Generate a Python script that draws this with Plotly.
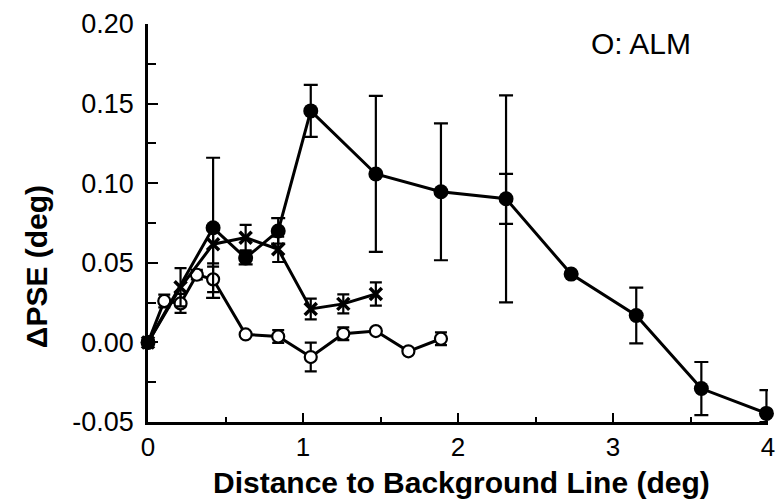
import plotly.graph_objects as go

# ---- data ----
filled_x = [0, 0.42, 0.63, 0.84, 1.05, 1.47, 1.89, 2.31, 2.73, 3.15, 3.57, 3.99]
filled_y = [0, 0.072, 0.053, 0.070, 0.1454, 0.1058, 0.0946, 0.0902, 0.0429, 0.0169, -0.0290, -0.0446]
filled_err_plus = [0, 0.044, 0.004, 0.008, 0.0163, 0.049, 0.043, 0.065, 0, 0.0175, 0.0167, 0.0146]
filled_err_minus = [0, 0.044, 0.004, 0.008, 0.0163, 0.049, 0.043, 0.065, 0, 0.0175, 0.0167, 0.0054]

inner_x = [2.31]
inner_y = [0.0902]
inner_err = [0.0157]

cross_x = [0, 0.21, 0.42, 0.63, 0.84, 1.05, 1.26, 1.47]
cross_y = [0, 0.0346, 0.0617, 0.0658, 0.0585, 0.021, 0.0242, 0.0304]
cross_err = [0, 0.012, 0.012, 0.008, 0.008, 0.0065, 0.006, 0.0073]

open_x = [0, 0.105, 0.21, 0.315, 0.42, 0.63, 0.84, 1.05, 1.26, 1.47, 1.68, 1.89]
open_y = [0, 0.026, 0.0245, 0.0425, 0.0396, 0.005, 0.0037, -0.0092, 0.0054, 0.0071, -0.0056, 0.0023]
open_err = [0, 0.004, 0.006, 0.003, 0.008, 0, 0.004, 0.009, 0.004, 0, 0, 0.004]

x_ticks = [0, 1, 2, 3, 4]
x_ticktext = ["0", "1", "2", "3", "4"]
y_ticks = [-0.05, 0.00, 0.05, 0.10, 0.15, 0.20]
y_ticktext = ["-0.05", "0.00", "0.05", "0.10", "0.15", "0.20"]

x_title = "Distance to Background Line (deg)"
y_title = "ΔPSE (deg)"
note_text = "O: ALM"

FONT = "Liberation Sans, Arial, Helvetica, sans-serif"

fig = go.Figure()

fig.add_trace(go.Scatter(
    x=open_x, y=open_y, mode="lines+markers",
    line=dict(color="black", width=3),
    marker=dict(symbol="circle", size=12, color="white", line=dict(color="black", width=2.2)),
    error_y=dict(type="data", array=open_err, color="black", thickness=2.2, width=6),
    cliponaxis=False, showlegend=False))

fig.add_trace(go.Scatter(
    x=cross_x, y=cross_y, mode="lines+markers",
    line=dict(color="black", width=3),
    marker=dict(symbol="x-thin-open", size=12, color="black", line=dict(color="black", width=3.5)),
    error_y=dict(type="data", array=cross_err, color="black", thickness=2.2, width=6),
    cliponaxis=False, showlegend=False))

fig.add_trace(go.Scatter(
    x=filled_x, y=filled_y, mode="lines+markers",
    line=dict(color="black", width=3),
    marker=dict(symbol="circle", size=15, color="black"),
    error_y=dict(type="data", symmetric=False, array=filled_err_plus,
                 arrayminus=filled_err_minus, color="black", thickness=2.2, width=7),
    cliponaxis=False, showlegend=False))

fig.add_trace(go.Scatter(
    x=inner_x, y=inner_y, mode="markers",
    marker=dict(size=1, color="black"),
    error_y=dict(type="data", array=inner_err, color="black", thickness=2.2, width=7),
    cliponaxis=False, showlegend=False))

fig.add_annotation(x=3.18, y=0.1875, xref="x", yref="y", text=note_text,
                   showarrow=False, font=dict(family=FONT, size=30, color="black"))

# axis titles placed as annotations to match the reference positions
fig.add_annotation(x=-0.18, y=0.39, xref="paper", yref="paper", text="<b>" + y_title + "</b>",
                   textangle=-90, showarrow=False, xanchor="center", yanchor="middle",
                   font=dict(family=FONT, size=30, color="black"))
fig.add_annotation(x=0.505, y=-0.151, xref="paper", yref="paper", text="<b>" + x_title + "</b>",
                   showarrow=False, xanchor="center", yanchor="middle",
                   font=dict(family=FONT, size=30, color="black"))

fig.update_layout(
    width=784, height=502,
    margin=dict(l=148, r=9, t=22, b=80),
    paper_bgcolor="white", plot_bgcolor="white",
    font=dict(family=FONT, color="black"),
)

fig.update_xaxes(
    range=[0, 4], tickvals=x_ticks, ticktext=x_ticktext,
    showline=True, linecolor="black", linewidth=2.5,
    ticks="inside", ticklen=9, tickwidth=2, tickcolor="black",
    minor=dict(dtick=0.5, ticks="inside", ticklen=5, tickwidth=1.5, tickcolor="black"),
    showgrid=False, zeroline=False,
    tickfont=dict(size=26, family=FONT),
    ticklabelstandoff=0,
)

fig.update_yaxes(
    range=[-0.05, 0.20], tickvals=y_ticks, ticktext=y_ticktext,
    showline=True, linecolor="black", linewidth=2.5,
    ticks="inside", ticklen=10, tickwidth=2, tickcolor="black",
    minor=dict(dtick=0.025, ticks="inside", ticklen=8, tickwidth=1.5, tickcolor="black"),
    showgrid=False, zeroline=False,
    tickfont=dict(size=27, family=FONT),
    ticklabelstandoff=6,
)

fig.write_html("out.html")
